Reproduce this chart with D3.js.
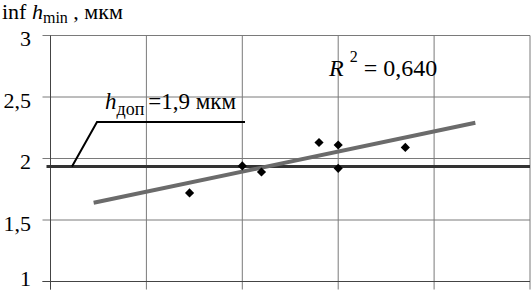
<!DOCTYPE html>
<html>
<head>
<meta charset="utf-8">
<script src="https://cdn.jsdelivr.net/npm/d3@7"></script>
<style>
  body { margin: 0; background: #fff; }
  text { font-family: "Liberation Serif", "Times New Roman", serif; fill: #000; }
</style>
</head>
<body>
<div id="viz"></div>
<script>
// chart data
const xTicks = [0, 1, 2, 3, 4, 5]
const yTicks = [1, 1.5, 2, 2.5, 3]
const yTickLabels = ['1', '1,5', '2', '2,5', '3']
const pointsX = [1.45, 2.0, 2.2, 2.8, 3.0, 3.0, 3.7]
const pointsY = [1.72, 1.94, 1.89, 2.13, 2.11, 1.92, 2.09]
const trendX = [0.45, 4.43]
const trendY = [1.64, 2.29]
const hDopLine = 1.935
const r2Label = '0,640'

let fullWidth = 531
let fullHeight = 292

var svg = d3.select('#viz').append('svg')
    .attr('width', fullWidth).attr('height', fullHeight)

var x = d3.scaleLinear().domain([0, 5]).range([50.5, 530])
var y = d3.scaleLinear().domain([1, 3]).range([281.5, 35.5])

// grid
svg.append('g').attr('class', 'grid')
    .selectAll('line').data(yTicks).enter().append('line')
    .attr('x1', x(0) - 8).attr('x2', x(5))
    .attr('y1', d => y(d)).attr('y2', d => y(d))
    .attr('stroke', '#7a7a7a').attr('stroke-width', 1)

svg.append('g').attr('class', 'grid')
    .selectAll('line').data(xTicks).enter().append('line')
    .attr('x1', d => x(d)).attr('x2', d => x(d))
    .attr('y1', y(3)).attr('y2', y(1) + 8)
    .attr('stroke', '#7a7a7a').attr('stroke-width', 1)

// axes
svg.append('line')
    .attr('x1', x(0)).attr('x2', x(0)).attr('y1', y(3)).attr('y2', y(1) + 8)
    .attr('stroke', '#444')
svg.append('line')
    .attr('x1', x(0) - 8).attr('x2', x(5)).attr('y1', y(1)).attr('y2', y(1))
    .attr('stroke', '#444')

// y tick labels (bottom one kept inside the frame)
svg.append('g').selectAll('text').data(yTicks).enter().append('text')
    .attr('x', 31).attr('y', d => Math.min(y(d) + 10.5, 286))
    .attr('text-anchor', 'end')
    .attr('font-size', 22)
    .text((d, i) => yTickLabels[i])

// permissible level line
svg.append('line')
    .attr('x1', x(0) - 4).attr('x2', x(5))
    .attr('y1', y(hDopLine)).attr('y2', y(hDopLine))
    .attr('stroke', '#333').attr('stroke-width', 3)

// trend line
var line = d3.line().x(d => x(d[0])).y(d => y(d[1]))
svg.append('path')
    .datum(trendX.map((d, i) => [d, trendY[i]]))
    .attr('d', line)
    .attr('fill', 'none')
    .attr('stroke', '#6b6b6b').attr('stroke-width', 4)

// points
svg.append('g').selectAll('path').data(pointsX).enter().append('path')
    .attr('d', d3.symbol(d3.symbolSquare, 42))
    .attr('transform', (d, i) => 'translate(' + x(d) + ',' + y(pointsY[i]) + ') rotate(45)')
    .attr('fill', '#000')

// leader line + label
svg.append('path')
    .attr('d', 'M72,' + y(hDopLine) + 'L97,122L245,122')
    .attr('fill', 'none').attr('stroke', '#000').attr('stroke-width', 2)

var lab = svg.append('text').attr('x', 105).attr('y', 109).attr('font-size', 23)
lab.append('tspan').attr('font-style', 'italic').text('h')
lab.append('tspan').attr('font-size', 18).attr('dy', 6).text('доп')
lab.append('tspan').attr('dy', -6).attr('dx', 4).text('=1,9 мкм')

// R^2
var r2 = svg.append('text').attr('x', 329).attr('y', 76).attr('font-size', 24)
r2.append('tspan').attr('font-style', 'italic').text('R')
r2.append('tspan').attr('font-size', 16).attr('dy', -14).attr('dx', 6).text('2')
r2.append('tspan').attr('dy', 14).attr('dx', 0).text(' = ' + r2Label)

// y axis title
var title = svg.append('text').attr('x', 2).attr('y', 19).attr('font-size', 22)
title.append('tspan').text('inf ')
title.append('tspan').attr('font-style', 'italic').text('h')
title.append('tspan').attr('font-size', 16).attr('dy', 4).text('min')
title.append('tspan').attr('dy', -4).text(' , мкм')
</script>
</body>
</html>
